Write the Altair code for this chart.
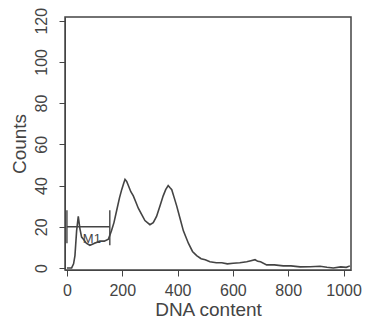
import altair as alt
import pandas as pd

# Histogram trace (DNA content channel vs counts)
dna = [0, 10, 17, 24, 29, 35, 41, 47, 53, 59, 70, 83, 100, 119, 135, 150, 161, 170, 180,
       190, 198, 205, 210, 216, 222, 231, 240, 249, 258, 270, 282, 291, 300, 312, 324,
       336, 348, 357, 366, 372, 379, 388, 397, 409, 421, 430, 439, 454, 469, 485, 500,
       517, 540, 560, 580, 601, 625, 650, 665, 680, 690, 700, 722, 750, 782, 810, 843,
       880, 915, 940, 963, 990, 1010, 1023]
counts = [0, 0, 0, 2, 6, 18, 25, 19, 15, 14, 12, 11, 12, 13, 13, 14, 18, 22, 28,
          34, 38, 41, 43, 42, 40, 37, 35, 32, 29, 26, 23, 22, 21, 22, 25,
          30, 35, 38, 40, 39, 38, 34, 30, 24, 18, 15, 12, 8, 6, 4.5, 4,
          3, 2.5, 2.5, 2, 2.3, 2.5, 3, 3.5, 4, 3.2, 3, 1.5, 1.5, 1, 1, 0.5,
          0.6, 0.8, 0.3, 0, 0.5, 0.3, 1]

# Marker M1
m_start, m_end, m_level = 0, 155, 20
m_low, m_high = 12, 28
m_label = "M1"

x_ticks = list(range(0, 1001, 50))
y_ticks = list(range(0, 121, 5))

hist = pd.DataFrame({"x": dna, "y": counts})
marker_h = pd.DataFrame({"x": [m_start], "x2": [m_end], "y": [m_level]})
marker_v = pd.DataFrame({"x": [m_start, m_end], "y": [m_low, m_low - 1], "y2": [m_high, m_high]})
marker_t = pd.DataFrame({"x": [90], "y": [14], "t": [m_label]})

xs = alt.Scale(domain=[-7, 1027], nice=False, zero=False)
ys = alt.Scale(domain=[-1, 121.8], nice=False, zero=False)

grey = "#444444"
font = "Liberation Sans"

x_axis = alt.Axis(
    title="DNA content", values=x_ticks,
    labelExpr="datum.value % 200 === 0 ? datum.label : ''",
    labelOverlap=False, grid=False,
    tickSize={"condition": {"test": "datum.value % 200 === 0", "value": 6}, "value": 3},
    tickColor=grey, domainColor=grey, labelColor=grey, titleColor=grey,
    labelFont=font, titleFont=font, labelFontSize=16, titleFontSize=19,
    titleFontWeight="normal", labelPadding=6, titlePadding=2, format="d",
)
y_axis = alt.Axis(
    title="Counts", values=y_ticks,
    labelExpr="datum.value % 20 === 0 ? datum.label : ''",
    labelOverlap=False, grid=False, labelAngle=270,
    labelAlign="center", labelBaseline="bottom",
    tickSize={"condition": {"test": "datum.value % 20 === 0", "value": 6}, "value": 3},
    tickColor=grey, domainColor=grey, labelColor=grey, titleColor=grey,
    labelFont=font, titleFont=font, labelFontSize=16, titleFontSize=19,
    titleFontWeight="normal", labelPadding=10, titlePadding=4, format="d",
)

line = alt.Chart(hist).mark_line(color=grey, strokeWidth=1.6).encode(
    x=alt.X("x:Q", scale=xs, axis=x_axis),
    y=alt.Y("y:Q", scale=ys, axis=y_axis),
)
mh = alt.Chart(marker_h).mark_rule(color=grey, strokeWidth=1.4).encode(
    x="x:Q", x2="x2:Q", y="y:Q")
mv = alt.Chart(marker_v).mark_rule(color=grey, strokeWidth=1.4).encode(
    x="x:Q", y="y:Q", y2="y2:Q")
mt = alt.Chart(marker_t).mark_text(color=grey, font=font, fontSize=13,
                                   align="center", baseline="middle").encode(
    x="x:Q", y="y:Q", text="t:N")

chart = alt.layer(line, mh, mv, mt).properties(
    width=286, height=253,
    padding={"left": 65, "top": 17, "right": 14, "bottom": 59},
    autosize=alt.AutoSizeParams(type="none"),
    background="white",
).configure_view(stroke=grey, strokeWidth=1.5)

chart.save("out.html", embed_options={"renderer": "svg", "actions": False})
